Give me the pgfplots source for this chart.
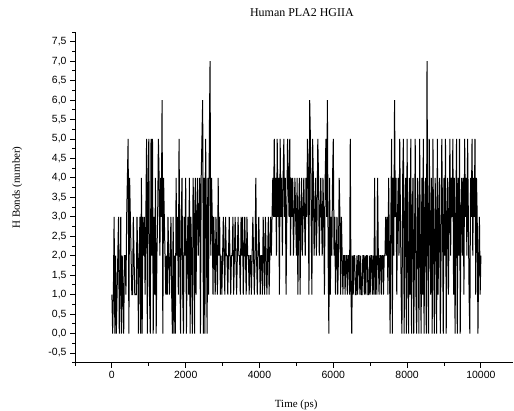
\documentclass[border=0pt]{standalone}
\usepackage{fontspec}
\setmainfont{Liberation Serif}
\newfontfamily\arial{Liberation Sans}
\usepackage{pgfplots}
\pgfplotsset{compat=1.18}
\begin{document}
\begin{tikzpicture}
\begin{axis}[name=ax, scale only axis, width=438bp, height=330.7bp,
  xmin=-1000, xmax=10870, ymin=-0.75, ymax=7.75,
  axis lines=left, axis line style={-, line width=0.9pt},
  scaled x ticks=false, scaled y ticks=false,
  xtick={0,2000,4000,6000,8000,10000}, minor xtick={-1000,1000,3000,5000,7000,9000},
  ytick={-0.5,0,0.5,1,1.5,2,2.5,3,3.5,4,4.5,5,5.5,6,6.5,7,7.5},
  minor ytick={-0.75,-0.25,0.25,0.75,1.25,1.75,2.25,2.75,3.25,3.75,4.25,4.75,5.25,5.75,6.25,6.75,7.25,7.75},
  tick align=outside, major tick length=5bp, minor tick length=3bp,
  every tick/.style={black, line width=0.9pt},
  ticklabel style={font=\arial\fontsize{10.5}{12}\selectfont},
  /pgf/number format/assume math mode=true,
  /pgf/number format/use comma,
  /pgf/number format/1000 sep={},
  x tick label style={/pgf/number format/.cd, fixed, precision=0, 1000 sep={}, /tikz/.cd},
  y tick label style={/pgf/number format/.cd, fixed, fixed zerofill, precision=1, /tikz/.cd},
  title={Human PLA2 HGIIA},
  title style={at={(axis description cs:0.518,1.042)}, anchor=center, font=\fontsize{12}{14}\selectfont},
  xlabel={Time (ps)},
  xlabel style={at={(axis description cs:0.505,-0.128)}, anchor=center, font=\fontsize{11}{13}\selectfont},
  ylabel={H Bonds (number)},
  ylabel style={at={(axis description cs:-0.132,0.53)}, anchor=center, font=\fontsize{11}{13}\selectfont},
]
\addplot[black, line width=1bp] coordinates {
(0,1)(20,0)(40,1)(60,3)(80,0)(100,2)(120,0)(140,1)(160,2)(180,3)(200,0)(220,1)(240,3)(260,0)(280,2)(300,1)(320,0)(340,2)(360,2)(380,1)(400,3)(420,4)(440,5)(460,0)(480,4)
(500,3)(520,2)(540,1)(560,1)(580,3)(600,2)(620,1)(640,1)(660,1)(680,3)(700,2)(720,0)(740,2)(760,3)(780,0)(800,4)(820,0)(840,3)(860,2)(880,3)(900,1)(920,3)(940,5)(960,0)(980,4)
(1000,5)(1020,1)(1040,0)(1060,5)(1080,2)(1100,5)(1120,0)(1140,3)(1160,1)(1180,4)(1200,0)(1220,2)(1240,3)(1260,5)(1280,4)(1300,2)(1320,4)(1340,3)(1360,6)(1380,0)(1400,4)(1420,3)(1440,2)(1460,1)(1480,2)
(1500,1)(1520,3)(1540,2)(1560,1)(1580,2)(1600,3)(1620,1)(1640,0)(1660,3)(1680,0)(1700,2)(1720,0)(1740,4)(1760,2)(1780,3)(1800,1)(1820,5)(1840,2)(1860,0)(1880,3)(1900,4)(1920,1)(1940,0)(1960,3)(1980,2)
(2000,4)(2020,0)(2040,2)(2060,3)(2080,1)(2100,4)(2120,0)(2140,3)(2160,2)(2180,0)(2200,4)(2220,3)(2240,0)(2260,4)(2280,1)(2300,3)(2320,4)(2340,2)(2360,3)(2380,4)(2400,0)(2420,4)(2440,5)(2460,6)(2480,0)
(2500,4)(2520,0)(2540,5)(2560,3)(2580,0)(2600,4)(2620,1)(2640,5)(2660,7)(2680,2)(2700,4)(2720,3)(2740,1)(2760,3)(2780,2)(2800,1)(2820,3)(2840,2)(2860,1)(2880,4)(2900,2)(2920,3)(2940,1)(2960,2)(2980,1)
(3000,2)(3020,3)(3040,2)(3060,1)(3080,3)(3100,2)(3120,2)(3140,1)(3160,2)(3180,3)(3200,2)(3220,1)(3240,2)(3260,2)(3280,3)(3300,1)(3320,2)(3340,3)(3360,2)(3380,1)(3400,2)(3420,3)(3440,2)(3460,2)(3480,1)
(3500,3)(3520,2)(3540,3)(3560,1)(3580,2)(3600,3)(3620,2)(3640,1)(3660,3)(3680,2)(3700,2)(3720,1)(3740,2)(3760,2)(3780,1)(3800,2)(3820,3)(3840,2)(3860,1)(3880,2)(3900,4)(3920,2)(3940,1)(3960,2)(3980,3)
(4000,2)(4020,1)(4040,2)(4060,2)(4080,1)(4100,3)(4120,2)(4140,1)(4160,3)(4180,2)(4200,1)(4220,2)(4240,3)(4260,1)(4280,2)(4300,3)(4320,2)(4340,3)(4360,4)(4380,3)(4400,5)(4420,3)(4440,4)(4460,2)(4480,5)
(4500,3)(4520,4)(4540,1)(4560,5)(4580,3)(4600,4)(4620,2)(4640,4)(4660,5)(4680,3)(4700,4)(4720,1)(4740,3)(4760,5)(4780,4)(4800,3)(4820,5)(4840,2)(4860,4)(4880,3)(4900,4)(4920,2)(4940,3)(4960,4)(4980,3)
(5000,2)(5020,4)(5040,1)(5060,3)(5080,4)(5100,1)(5120,3)(5140,4)(5160,2)(5180,3)(5200,4)(5220,3)(5240,2)(5260,4)(5280,3)(5300,5)(5320,4)(5340,1)(5360,6)(5380,5)(5400,3)(5420,1)(5440,5)(5460,4)(5480,2)
(5500,3)(5520,4)(5540,2)(5560,3)(5580,5)(5600,4)(5620,2)(5640,3)(5660,4)(5680,3)(5700,2)(5720,4)(5740,3)(5760,1)(5780,4)(5800,5)(5820,3)(5840,6)(5860,2)(5880,0)(5900,4)(5920,1)(5940,3)(5960,2)(5980,4)
(6000,5)(6020,2)(6040,3)(6060,1)(6080,2)(6100,3)(6120,1)(6140,2)(6160,4)(6180,3)(6200,1)(6220,3)(6240,2)(6260,1)(6280,2)(6300,2)(6320,1)(6340,2)(6360,2)(6380,1)(6400,2)(6420,2)(6440,1)(6460,5)(6480,1)
(6500,0)(6520,2)(6540,1)(6560,2)(6580,2)(6600,1)(6620,1)(6640,2)(6660,1)(6680,2)(6700,2)(6720,1)(6740,2)(6760,1)(6780,1)(6800,2)(6820,2)(6840,1)(6860,2)(6880,1)(6900,2)(6920,2)(6940,1)(6960,1)(6980,2)
(7000,1)(7020,2)(7040,2)(7060,1)(7080,2)(7100,1)(7120,4)(7140,1)(7160,2)(7180,1)(7200,4)(7220,2)(7240,1)(7260,2)(7280,2)(7300,1)(7320,2)(7340,2)(7360,1)(7380,2)(7400,2)(7420,3)(7440,2)(7460,3)(7480,1)
(7500,4)(7520,2)(7540,0)(7560,3)(7580,5)(7600,0)(7620,4)(7640,2)(7660,6)(7680,3)(7700,4)(7720,1)(7740,3)(7760,4)(7780,2)(7800,5)(7820,3)(7840,1)(7860,0)(7880,4)(7900,5)(7920,0)(7940,3)(7960,4)(7980,0)
(8000,5)(8020,2)(8040,0)(8060,4)(8080,1)(8100,5)(8120,0)(8140,3)(8160,4)(8180,0)(8200,2)(8220,5)(8240,1)(8260,0)(8280,4)(8300,3)(8320,0)(8340,5)(8360,2)(8380,0)(8400,4)(8420,1)(8440,5)(8460,0)(8480,3)
(8500,4)(8520,0)(8540,7)(8560,2)(8580,0)(8600,5)(8620,3)(8640,1)(8660,4)(8680,0)(8700,5)(8720,2)(8740,0)(8760,4)(8780,3)(8800,0)(8820,5)(8840,1)(8860,3)(8880,4)(8900,0)(8920,2)(8940,5)(8960,3)(8980,0)
(9000,4)(9020,2)(9040,5)(9060,0)(9080,3)(9100,4)(9120,1)(9140,3)(9160,5)(9180,2)(9200,4)(9220,3)(9240,5)(9260,1)(9280,4)(9300,0)(9320,3)(9340,5)(9360,0)(9380,4)(9400,2)(9420,5)(9440,0)(9460,3)(9480,4)
(9500,2)(9520,4)(9540,1)(9560,5)(9580,3)(9600,4)(9620,2)(9640,5)(9660,3)(9680,1)(9700,0)(9720,4)(9740,3)(9760,5)(9780,2)(9800,4)(9820,3)(9840,5)(9860,1)(9880,4)(9900,3)(9920,0)(9940,2)(9960,3)(9980,1)(10000,2)
};
\end{axis}
\pgfresetboundingbox
\path (ax.south west) ++(-75bp,-48.3bp) rectangle ++(514bp,411bp);
\end{tikzpicture}
\end{document}
